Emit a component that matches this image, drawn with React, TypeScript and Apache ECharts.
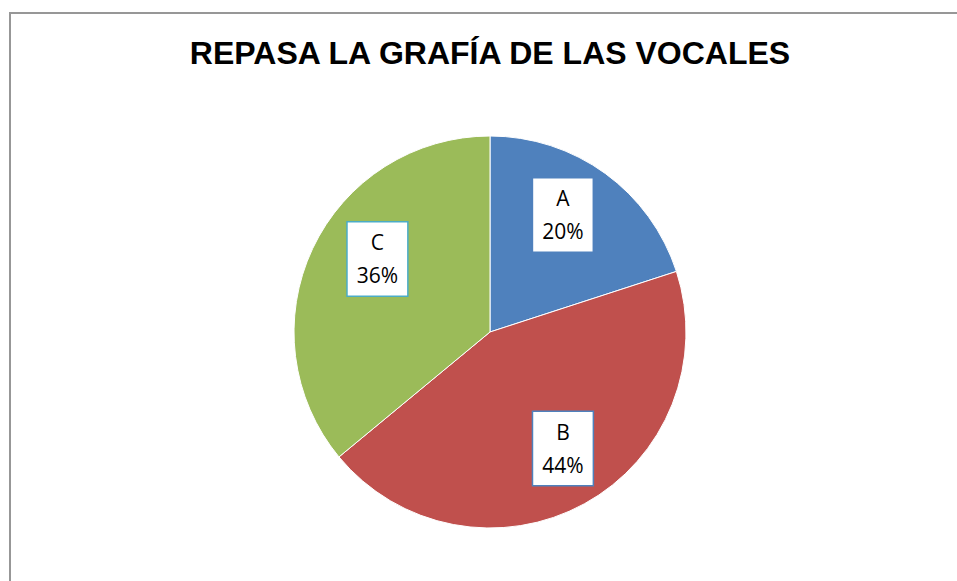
import React, { useEffect, useRef } from "react";
import * as echarts from "echarts";

const titleText = "REPASA LA GRAFÍA DE LAS VOCALES";
const categories = ["A", "B", "C"];
const values = [20, 44, 36];
const sliceColors = ["#4F81BD", "#C0504D", "#9BBB59"];
const labelBorderColors = ["#4F81BD", "#4F81BD", "#4BACC6"];
// small nudges of the data-label boxes (layout only)
const labelNudge = [
  [-10, -3],
  [5, -7],
  [15, -13],
];

export default function App() {
  const ref = useRef<HTMLDivElement>(null);
  useEffect(() => {
    if (!ref.current) return;
    const chart = echarts.init(ref.current, null, { renderer: "svg" });
    const pieData = categories.map((c, i) => ({
      name: c,
      value: values[i],
      itemStyle: { color: sliceColors[i] },
    }));
    const labelData = categories.map((c, i) => ({
      name: c,
      value: values[i],
      itemStyle: { color: "rgba(0,0,0,0)" },
      label: { borderColor: labelBorderColors[i] },
    }));
    chart.setOption({
      animation: false,
      backgroundColor: "#ffffff",
      title: {
        text: titleText,
        left: 485,
        top: 32,
        textAlign: "center",
        textStyle: {
          fontFamily: "Liberation Sans, Arial, sans-serif",
          fontWeight: "bold",
          fontSize: 32,
          color: "#000000",
        },
      },
      graphic: [
        {
          type: "rect",
          shape: { x: 10, y: 13, width: 1200, height: 1000 },
          style: { fill: "none", stroke: "#979797", lineWidth: 2 },
          silent: true,
        },
      ],
      series: [
        {
          type: "pie",
          center: [490, 332],
          radius: [0, 196],
          startAngle: 90,
          clockwise: true,
          data: pieData,
          label: { show: false },
          labelLine: { show: false },
          itemStyle: { borderColor: "#ffffff", borderWidth: 1 },
          emphasis: { disabled: true },
          silent: true,
        },
        {
          type: "pie",
          center: [490, 332],
          radius: [80, 196],
          startAngle: 90,
          clockwise: true,
          data: labelData,
          labelLine: { show: false },
          emphasis: { disabled: true },
          silent: true,
          labelLayout: (params: any) => {
            const n = labelNudge[params.dataIndex] || [0, 0];
            return { dx: n[0], dy: n[1] };
          },
          label: {
            show: true,
            position: "inside",
            rotate: 0,
            formatter: "{b}\n{d}%",
            fontFamily: "Open Sans, sans-serif",
            fontSize: 21,
            lineHeight: 33,
            color: "#000000",
            align: "center",
            backgroundColor: "#ffffff",
            borderWidth: 1.5,
            padding: [4, 9, 3, 9],
          },
        },
      ],
    });
    return () => chart.dispose();
  }, []);
  return (
    <div
      ref={ref}
      style={{ position: "fixed", left: 0, top: 0, width: 957, height: 581 }}
    />
  );
}
